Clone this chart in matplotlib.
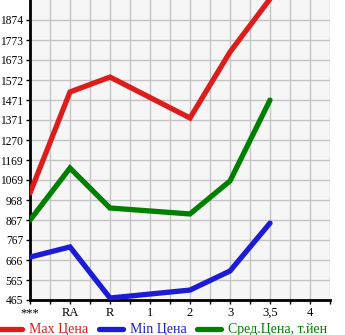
import matplotlib
matplotlib.use("Agg")
import matplotlib.pyplot as plt
import numpy as np

categories = ["***", "RA", "R", "1", "2", "3", "3,5", "4"]
# values per category (None = no data)
max_price = [1003, 1512, 1587, None, 1381, 1713, 1980, None]
min_price = [681, 732, 475, None, 515, 611, 852, None]
avg_price = [867, 1129, 928, None, 898, 1064, 1471, None]
yticks = [465, 565, 666, 767, 867, 968, 1069, 1169, 1270, 1371, 1471, 1572, 1673, 1773, 1874]

series = [
    ("Max Цена", max_price, "#dd1c1c"),
    ("Min Цена", min_price, "#1c1cd8"),
    ("Сред.Цена, т.йен", avg_price, "#008000"),
]

plt.rcParams['font.family'] = ['Liberation Serif', 'DejaVu Serif']

fig = plt.figure(figsize=(3.45, 3.35), dpi=100)
ax = fig.add_axes([30/345, 35/335, 300/345, 300/335])
ax.set_facecolor("#f6f6f6")

handles = []
for name, vals, col in series:
    xs = [i for i, v in enumerate(vals) if v is not None]
    ys = [v for v in vals if v is not None]
    h, = ax.plot(xs, ys, color=col, lw=3.8, solid_capstyle="round",
                 solid_joinstyle="miter", label=name, zorder=3)
    handles.append(h)

ax.set_xlim(0, 7.5)
step = (yticks[-1] - yticks[0]) / (len(yticks) - 1)
ax.set_ylim(yticks[0], yticks[0] + 15 * step)
ax.set_yticks(yticks)
ax.set_yticklabels([str(t) for t in yticks])
ax.set_xticks(np.arange(0, 8, 1))
ax.set_xticklabels(categories)
ax.set_xticks(np.arange(0.5, 7.6, 1), minor=True)
ax.grid(True, which="both", color="#c4c4c4", lw=1)
ax.set_axisbelow(True)
for s in ["top", "right"]:
    ax.spines[s].set_visible(False)
ax.spines["left"].set_linewidth(2)
ax.spines["bottom"].set_linewidth(2)
ax.tick_params(axis="both", which="both", length=3, width=1, pad=2, color="black")
ax.tick_params(axis="x", labelsize=9)
ax.tick_params(axis="y", labelsize=8.3, pad=2)

leg = fig.legend(handles=handles, loc="center left", bbox_to_anchor=(-0.005, 5/335), ncol=3,
                 frameon=False, fontsize=10, handlelength=1.7, handletextpad=0.5,
                 columnspacing=0.8, borderaxespad=0, borderpad=0)
for t, (_, _, col) in zip(leg.get_texts(), series):
    t.set_color(col)

fig.savefig("out.png", dpi=100)
